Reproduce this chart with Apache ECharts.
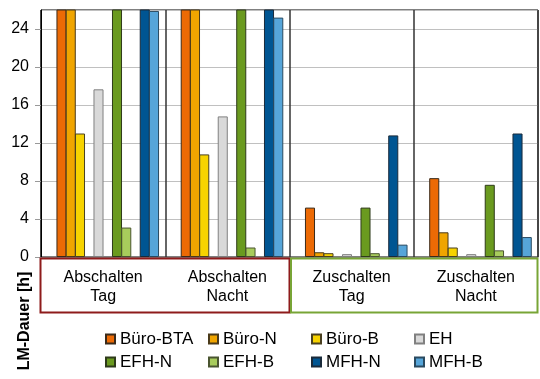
<!DOCTYPE html>
<html>
<head>
<meta charset="utf-8">
<script src="https://cdn.jsdelivr.net/npm/echarts@6/dist/echarts.min.js"></script>
<style>
html,body{margin:0;padding:0;background:#fff;}
#c{width:540px;height:379px;}
</style>
</head>
<body>
<div id="c"></div>
<script>
var categories = ['Abschalten\nTag', 'Abschalten\nNacht', 'Zuschalten\nTag', 'Zuschalten\nNacht'];
var yTicks = [0, 4, 8, 12, 16, 20, 24];
var seriesNames = ['Büro-BTA', 'Büro-N', 'Büro-B', 'EH', 'EFH-N', 'EFH-B', 'MFH-N', 'MFH-B'];
var bueroBTA = [30, 30, 5.2, 8.3];
var bueroN   = [30, 30, 0.5, 2.6];
var bueroB   = [13.0, 10.8, 0.4, 1.0];
var eh       = [17.65, 14.8, 0.3, 0.3];
var efhN     = [30, 30, 5.2, 7.6];
var efhB     = [3.1, 1.0, 0.4, 0.7];
var mfhN     = [30, 30, 12.8, 13.0];
var mfhB     = [25.9, 25.2, 1.3, 2.1];

var colors = {
  'Büro-BTA': '#EC6A05',
  'Büro-N': '#F0A500',
  'Büro-B': '#F7D300',
  'EH': '#D9D9D9',
  'EFH-N': '#6A9A1F',
  'EFH-B': '#A8CC5C',
  'MFH-N': '#005592',
  'MFH-B': '#56A5D9'
};
var borders = {
  'Büro-BTA': '#3a2a1a',
  'Büro-N': '#4a3a1a',
  'Büro-B': '#4a4020',
  'EH': '#808080',
  'EFH-N': '#2e3a1a',
  'EFH-B': '#4a5530',
  'MFH-N': '#1a2a3a',
  'MFH-B': '#2a4a60'
};
var dataMap = {
  'Büro-BTA': bueroBTA, 'Büro-N': bueroN, 'Büro-B': bueroB, 'EH': eh,
  'EFH-N': efhN, 'EFH-B': efhB, 'MFH-N': mfhN, 'MFH-B': mfhB
};
// slot order including empty spacer slots
var slotOrder = [null, 'Büro-BTA', 'Büro-N', 'Büro-B', null, 'EH', null, 'EFH-N', 'EFH-B', null, 'MFH-N', 'MFH-B'];

var FONT = '"Liberation Sans", Arial, sans-serif';

var series = slotOrder.map(function (name, i) {
  if (!name) {
    return { type: 'bar', name: '_gap' + i, data: [], barGap: '-8%', barCategoryGap: '10%', silent: true };
  }
  return {
    type: 'bar',
    name: name,
    data: dataMap[name],
    barGap: '-8%',
    barCategoryGap: '10%',
    clip: true,
    itemStyle: { color: colors[name], borderColor: borders[name], borderWidth: 1 }
  };
});

var legendCommon = {
  orient: 'horizontal', left: 105, padding: 0,
  icon: 'rect', itemWidth: 9, itemHeight: 9, itemGap: 0,
  textStyle: { fontSize: 17, color: '#000', width: 88, lineHeight: 20, fontFamily: FONT },
  selectedMode: false
};

var chart = echarts.init(document.getElementById('c'), null, { renderer: 'canvas' });
chart.setOption({
  animation: false,
  backgroundColor: '#fff',
  textStyle: { fontFamily: FONT },
  grid: { left: 41, right: 2, top: 10, bottom: 122, show: true, borderColor: '#000', borderWidth: 1, backgroundColor: 'transparent' },
  xAxis: {
    type: 'category',
    data: categories,
    axisLine: { show: true, lineStyle: { color: '#808080', width: 1 } },
    axisTick: { show: false },
    splitLine: { show: true, lineStyle: { color: '#333', width: 1.5 } },
    axisLabel: { fontSize: 16, color: '#000', lineHeight: 19, margin: 11, fontFamily: FONT, interval: 0 }
  },
  yAxis: {
    type: 'value',
    min: 0, max: 26, interval: 4,
    axisLine: { show: true, lineStyle: { color: '#000', width: 1 } },
    axisTick: { show: true, length: 6, lineStyle: { color: '#999' } },
    splitLine: { show: true, lineStyle: { color: '#C0C0C0', width: 1.2 } },
    axisLabel: {
      fontSize: 16, color: '#000', margin: 12, fontFamily: FONT, showMaxLabel: false,
      formatter: function (v) { return yTicks.indexOf(v) >= 0 ? String(v) : ''; }
    }
  },
  legend: [
    Object.assign({ data: seriesNames.slice(0, 4), top: 329 }, legendCommon),
    Object.assign({ data: seriesNames.slice(4), top: 352 }, legendCommon)
  ],
  graphic: [
    { type: 'rect', shape: { x: 40.5, y: 258.5, width: 249, height: 54 }, style: { fill: 'none', stroke: '#8E1B1B', lineWidth: 2 }, z: 10 },
    { type: 'rect', shape: { x: 291, y: 258.5, width: 246.5, height: 54 }, style: { fill: 'none', stroke: '#78A536', lineWidth: 2 }, z: 10 },
    { type: 'text', x: 25, y: 321, rotation: Math.PI / 2,
      style: { text: 'LM-Dauer [h]', font: 'bold 16px ' + FONT, fill: '#000', align: 'center', verticalAlign: 'middle' }, z: 10 }
  ],
  series: series
});
</script>
</body>
</html>
